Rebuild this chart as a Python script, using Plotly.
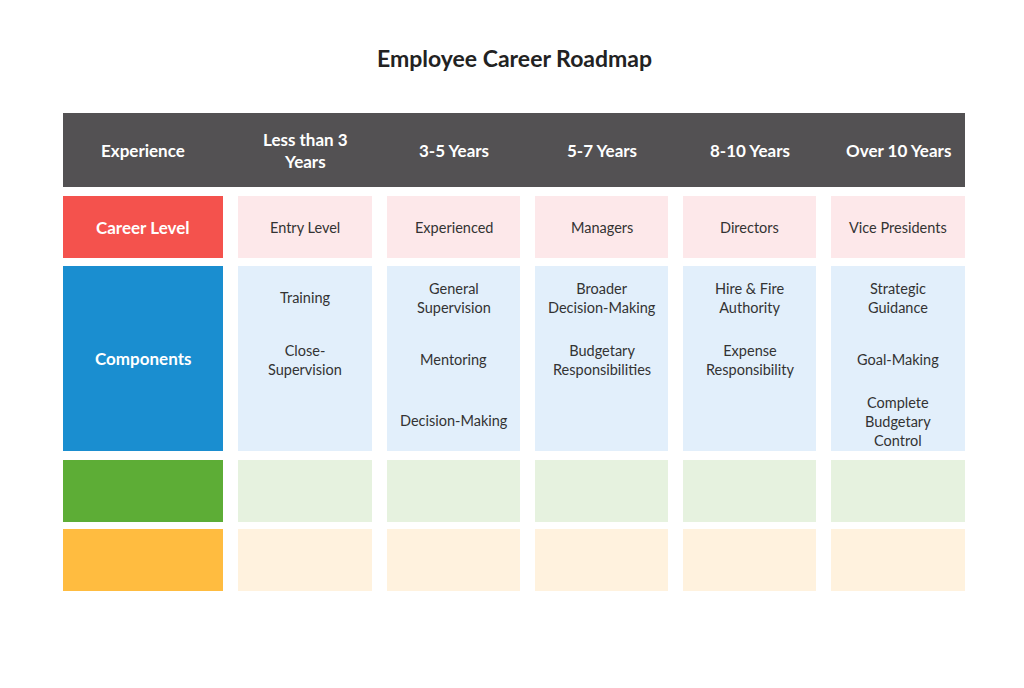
import plotly.graph_objects as go

title = "Employee Career Roadmap"
columns = ["Experience", "Less than 3<br>Years", "3-5 Years", "5-7 Years", "8-10 Years", "Over 10 Years"]
row_labels = ["Career Level", "Components", "", ""]
career_level = ["Entry Level", "Experienced", "Managers", "Directors", "Vice Presidents"]
components = [
    ["Training", "Close-<br>Supervision"],
    ["General<br>Supervision", "Mentoring", "Decision-Making"],
    ["Broader<br>Decision-Making", "Budgetary<br>Responsibilities"],
    ["Hire & Fire<br>Authority", "Expense<br>Responsibility"],
    ["Strategic<br>Guidance", "Goal-Making", "Complete<br>Budgetary<br>Control"],
]
comp_y = [
    [297, 360],
    [298, 359, 420],
    [298, 360],
    [298, 360],
    [298, 359, 421],
]

W, H = 1024, 688
OFF = 8
col_x = [(63, 223), (238, 372), (387, 520), (535, 668), (683, 816), (831, 965)]
header_y = (113, 187)
row_y = [(196, 258), (266, 451), (460, 522), (529, 591)]
row_strong = ["#f4524d", "#1a8ed0", "#5dad36", "#ffbc40"]
row_light = ["#fde8ea", "#e2effb", "#e6f2df", "#fff2de"]

fig = go.Figure()
shapes = []
ann = []
shapes.append(dict(type="rect", x0=col_x[0][0], x1=col_x[-1][1], y0=header_y[0], y1=header_y[1],
                   fillcolor="#535153", line_width=0))
for (x0, x1), lab in zip(col_x, columns):
    ann.append(dict(x=(x0 + x1) / 2, y=sum(header_y) / 2, text="<b>" + lab + "</b>", showarrow=False,
                    font=dict(size=17, color="white")))
for r, (y0, y1) in enumerate(row_y):
    for c, (x0, x1) in enumerate(col_x):
        shapes.append(dict(type="rect", x0=x0, x1=x1, y0=y0, y1=y1, line_width=0,
                           fillcolor=row_strong[r] if c == 0 else row_light[r]))
    if row_labels[r]:
        ann.append(dict(x=sum(col_x[0]) / 2, y=(y0 + y1) / 2, text="<b>" + row_labels[r] + "</b>",
                        showarrow=False, font=dict(size=17, color="white")))
for c, txt in enumerate(career_level):
    x0, x1 = col_x[c + 1]
    ann.append(dict(x=(x0 + x1) / 2, y=sum(row_y[0]) / 2, text=txt, showarrow=False,
                    font=dict(size=14.5, color="#333333")))
for c, items in enumerate(components):
    x0, x1 = col_x[c + 1]
    for t, yy in zip(items, comp_y[c]):
        ann.append(dict(x=(x0 + x1) / 2, y=yy, text=t, showarrow=False,
                        font=dict(size=14.5, color="#333333")))
ann.append(dict(x=W / 2 + 2, y=58, text="<b>" + title + "</b>", showarrow=False,
                font=dict(size=23, color="#222222")))

fig.update_layout(width=W, height=H, margin=dict(l=0, r=0, t=0, b=0),
                  paper_bgcolor="white", plot_bgcolor="white",
                  font=dict(family="Lato"), shapes=shapes, annotations=ann,
                  xaxis=dict(range=[OFF, W + OFF], visible=False, fixedrange=True),
                  yaxis=dict(range=[H + OFF, OFF], visible=False, fixedrange=True),
                  showlegend=False)
fig.write_html("out.html", config={"displayModeBar": False})
